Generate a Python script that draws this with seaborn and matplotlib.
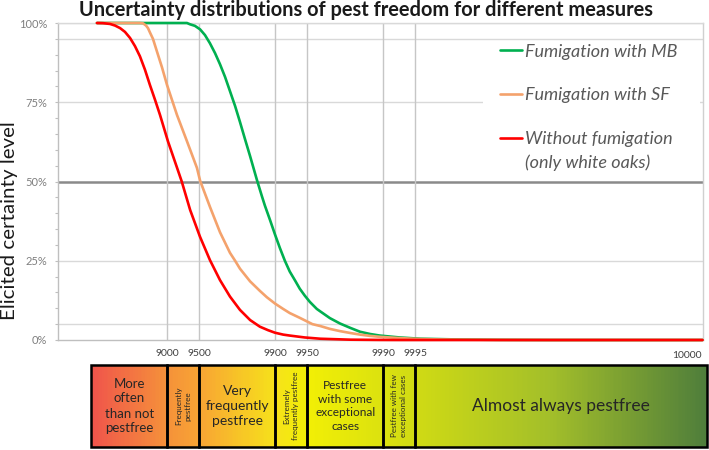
import numpy as np
import pandas as pd
import matplotlib
matplotlib.use("Agg")
import matplotlib.pyplot as plt
import seaborn as sns
from matplotlib.colors import LinearSegmentedColormap
from matplotlib.legend_handler import HandlerLine2D
from matplotlib.lines import Line2D
from matplotlib.patches import Rectangle
from matplotlib.ticker import FixedLocator, NullLocator, MultipleLocator

# ------------------------------------------------------------------ data
title_text = "Uncertainty distributions of pest freedom for different measures"
ylabel_text = "Elicited certainty level"

series_names = ["Fumigation with MB", "Fumigation with SF",
                "Without fumigation\n(only white oaks)"]
series_colors = ["#00B050", "#F4A26C", "#FF0000"]

# pest-free units per 10000 (x) and elicited certainty in % (y)
mb_pestfree = [5550, 9347, 9387, 9449, 9506, 9555, 9600, 9641, 9677, 9710,
               9739, 9766, 9789, 9810, 9830, 9853, 9868, 9876, 9889, 9900,
               9910, 9919, 9927, 9935, 9941, 9947, 9952.5, 9959, 9962, 9969,
               9975, 9980, 9983.7, 9986.8, 9989.3, 9993, 9995.5, 9998.1, 9999.17,
               9999.72, 9999.989]
mb_certainty = [100, 100, 99.6, 99.1, 98.0, 96.2, 93.6, 90.5, 87, 83,
                78.5, 73.8, 68.8, 63.5, 58, 50.5, 45.3, 42.4, 37.8, 33.3,
                29, 25, 21.6, 18.7, 16.2, 14, 12, 9.8, 9.0, 6.9,
                5.2, 3.8, 2.6, 1.9, 1.4, 0.8, 0.4, 0.15, 0.05,
                0, 0]

sf_pestfree = [5550, 8222, 8333, 8436, 8500, 8563, 8652, 8762, 8888, 9000,
               9192, 9347, 9472, 9506, 9600, 9677, 9739, 9766, 9789, 9830,
               9862, 9881, 9900, 9916, 9927, 9941, 9955, 9962, 9969, 9975,
               9980, 9983.7, 9986.8, 9989.3, 9993, 9995.5, 9997, 9998.1, 9999.17,
               9999.72, 9999.989]
sf_certainty = [100, 100, 99.9, 99.2, 98.4, 97, 95, 91, 86, 80.5,
                71, 62.7, 54.3, 50.3, 42, 34, 27.5, 25, 22.5, 18.5,
                15.5, 13.5, 11.5, 9.8, 8.5, 7, 5, 4.4, 3.5, 2.8,
                2.2, 1.7, 1.3, 1.0, 0.6, 0.3, 0.18, 0.1, 0.03,
                0, 0]

wo_pestfree = [5550, 6083, 6630, 6970, 7280, 7551, 7800, 8022, 8220, 8400,
               8560, 8709, 8840, 9020, 9190, 9270, 9390, 9505, 9600, 9677,
               9739, 9789, 9830, 9862, 9884, 9900, 9916, 9927, 9947, 9962,
               9980, 9989.3, 9993, 9999.989]
wo_certainty = [100, 99.95, 99.7, 99.2, 98.4, 97.2, 95.3, 92.7, 89.5, 85.3,
                80.5, 75.8, 71, 62.7, 54.5, 50, 41, 32.6, 25.2, 18.9,
                13.7, 9.5, 6.3, 4.2, 3.1, 2.3, 1.7, 1.4, 0.8, 0.4,
                0.1, 0.02, 0, 0]

xtick_values = [9000, 9500, 9900, 9950, 9990, 9995]
xtick_labels = ["9000", "9500", "9900", "9950", "9990", "9995"]
end_label = "10000"
ytick_values = [0, 25, 50, 75, 100]
ytick_labels = ["0%", "25%", "50%", "75%", "100%"]
light_grid_y = [5, 25, 75, 95, 100]
dark_grid_y = [50]

band_edges = [5000, 9000, 9500, 9900, 9950, 9990, 9995, 9999.99]
band_labels = ["More\noften\nthan not\npestfree",
               "Frequently\npestfree",
               "Very\nfrequently\npestfree",
               "Extremely\nfrequently pestfree",
               "Pestfree\nwith some\nexceptional\ncases",
               "Pestfree with few\nexceptional cases",
               "Almost always pestfree"]
band_rotation = [0, 90, 0, 90, 0, 90, 0]
band_fontsize = [9.5, 5.8, 10, 5.8, 8.6, 5.8, 12.5]

# ------------------------------------------------------------------ frame
sns.set_theme(style="white")
plt.rcParams["font.family"] = ["Lato", "DejaVu Sans"]

W, H = 709, 450
fig = plt.figure(figsize=(W / 100, H / 100), dpi=100)


def px_rect(l, t, r, b):
    return [l / W, 1 - b / H, (r - l) / W, (b - t) / H]


ax = fig.add_axes(px_rect(58, 23, 703, 340))
axb = fig.add_axes(px_rect(58, 365, 703, 447), sharex=ax)

rows = []
for name, xs, ys in zip(series_names,
                        [mb_pestfree, sf_pestfree, wo_pestfree],
                        [mb_certainty, sf_certainty, wo_certainty]):
    for xv, yv in zip(xs, ys):
        rows.append({"measure": name, "pestfree": xv, "certainty": yv})
df = pd.DataFrame(rows)
df["shortfall"] = 10000 - df["pestfree"]

sns.lineplot(data=df, x="shortfall", y="certainty", hue="measure",
             hue_order=series_names, palette=dict(zip(series_names, series_colors)),
             estimator=None, linewidth=1.9, legend=False, ax=ax, zorder=4)
for ln in ax.get_lines():
    ln.set_clip_on(False)
    ln.set_solid_capstyle("round")
    ln.set_solid_joinstyle("round")

ax.set_xscale("log")
ax.set_xlim(10 ** 4.009, 10 ** -1.963)
ax.set_ylim(0, 100)

# grid
for yv in light_grid_y:
    ax.axhline(yv, color="#d9d9d9", lw=1.0, zorder=1)
for yv in dark_grid_y:
    ax.axhline(yv, color="#8a8a8a", lw=1.8, zorder=1)
for xv in xtick_values:
    ax.axvline(10000 - xv, color="#c6c6c6", lw=1.0, zorder=1)

# ticks
ax.xaxis.set_major_locator(FixedLocator([10000 - v for v in xtick_values]))
ax.xaxis.set_minor_locator(NullLocator())
ax.set_xticklabels(xtick_labels)
ax.tick_params(axis="x", which="both", length=0, pad=6.5, labelsize=7.5,
               labelcolor="#404040")
ax.text(0.975, -0.05, end_label, transform=ax.transAxes, ha="center",
        va="center", fontsize=7.5, color="#404040")

ax.yaxis.set_major_locator(FixedLocator(ytick_values))
ax.yaxis.set_minor_locator(MultipleLocator(5))
ax.set_yticklabels(ytick_labels)
ax.tick_params(axis="y", which="both", left=True, length=2.2, width=0.8,
               color="#bfbfbf", direction="out", pad=5.5, labelsize=8,
               labelcolor="#7f7f7f")
ax.set_xlabel("")
ax.set_ylabel("")

for side, col in [("left", "#bfbfbf"), ("bottom", "#bfbfbf"),
                  ("top", "#d9d9d9"), ("right", "#d0d0d0")]:
    ax.spines[side].set_visible(True)
    ax.spines[side].set_color(col)
    ax.spines[side].set_linewidth(1.0)
ax.set_facecolor("white")

# legend background (hides gridlines behind legend)
ax.add_patch(Rectangle(((483 - 58) / 645, (340 - 178) / 317),
                       (700 - 483) / 645, (178 - 42) / 317,
                       transform=ax.transAxes, facecolor="white",
                       edgecolor="none", zorder=1.5))


class FirstLineHandler(HandlerLine2D):
    def __init__(self, shift, **kw):
        super().__init__(**kw)
        self.shift = shift

    def create_artists(self, legend, orig_handle, xdescent, ydescent, width,
                       height, fontsize, trans):
        arts = super().create_artists(legend, orig_handle, xdescent, ydescent,
                                      width, height, fontsize, trans)
        for a in arts:
            if hasattr(a, "get_ydata"):
                a.set_ydata(np.asarray(a.get_ydata(), float) + self.shift)
        return arts


handles = [Line2D([], [], color=c, lw=1.9) for c in series_colors]
leg = ax.legend(handles, series_names, loc="upper left",
                bbox_to_anchor=((498 - 58) / 645, (340 - 42) / 317),
                frameon=False, handlelength=1.25,
                handletextpad=0.15, labelspacing=1.52, borderpad=0.1,
                borderaxespad=0.0,
                handler_map={handles[2]: FirstLineHandler(9.3)},
                prop={"style": "italic", "size": 13})
for t in leg.get_texts():
    t.set_color("#595959")
    t.set_linespacing(1.58)
leg.set_zorder(5)

# ------------------------------------------------------------------ band bar
axb.set_ylim(0, 1)
axb.axis("off")
cmap = LinearSegmentedColormap.from_list("pestfree", [
    (0.00, "#F0554B"), (0.12, "#F5913A"), (0.18, "#F8A733"),
    (0.30, "#F6E31A"), (0.35, "#F2EF05"), (0.47, "#DCE20F"),
    (0.53, "#CFDA14"), (0.75, "#A2BE2A"), (1.00, "#4F7E3B")])
s0, s1 = 10000 - band_edges[0], 10000 - band_edges[-1]
gx = np.logspace(np.log10(s0), np.log10(s1), 400)
gc = np.linspace(0, 1, len(gx) - 1)[np.newaxis, :]
mesh = axb.pcolormesh(gx, [0, 1], gc, cmap=cmap, shading="flat", zorder=1)
mesh.set_clip_on(False)

for i, lab in enumerate(band_labels):
    a = 10000 - band_edges[i]
    b = 10000 - band_edges[i + 1]
    axb.add_patch(Rectangle((b, 0), a - b, 1, facecolor="none",
                            edgecolor="black", lw=1.8, zorder=3, clip_on=False))
    xc = np.sqrt(a * b)
    axb.text(xc, 0.5, lab, rotation=band_rotation[i], ha="center", va="center",
             multialignment="center", fontsize=band_fontsize[i],
             color="#262626", linespacing=1.3, zorder=4)

# ------------------------------------------------------------------ titles
title = fig.text(366 / W, 1 - 10 / H, title_text, ha="center", va="center",
                 fontsize=13, fontweight="bold", color="#1a1a1a")
ylab = fig.text(10 / W, 1 - 221 / H, ylabel_text, rotation=90, ha="center",
                va="center", fontsize=13, color="#1a1a1a")

fig.canvas.draw()
r = fig.canvas.get_renderer()
w = title.get_window_extent(r).width
title.set_fontsize(title.get_fontsize() * 572 / w)
h = ylab.get_window_extent(r).height
ylab.set_fontsize(ylab.get_fontsize() * 198 / h)

fig.savefig("out.png", dpi=100)
